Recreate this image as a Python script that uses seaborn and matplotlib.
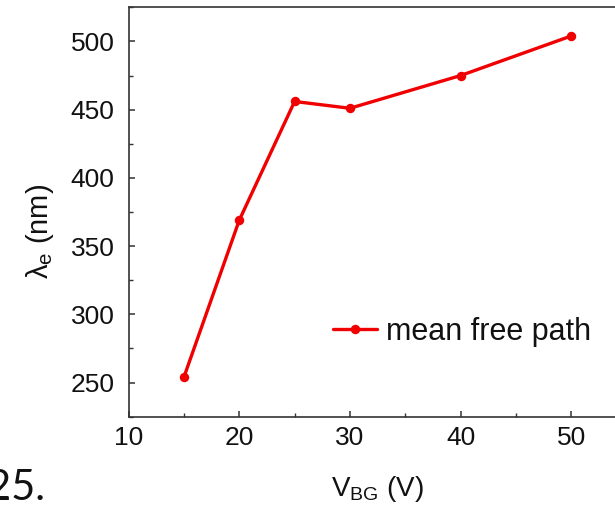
import matplotlib
matplotlib.use("Agg")
import matplotlib.pyplot as plt
import seaborn as sns
import pandas as pd
from matplotlib.ticker import MultipleLocator

# data
v_bg = [15, 20, 25, 30, 40, 50]
mean_free_path = [254, 369, 456, 451, 475, 504]
series_label = "mean free path"
x_ticks = [10, 20, 30, 40, 50]
y_ticks = [250, 300, 350, 400, 450, 500]

sns.set_theme(style="ticks")
plt.rcParams["font.family"] = ["Liberation Sans", "DejaVu Sans"]
plt.rcParams["mathtext.fontset"] = "custom"
plt.rcParams["mathtext.rm"] = "Liberation Sans"
plt.rcParams["mathtext.it"] = "Liberation Sans:italic"

df = pd.DataFrame({"V": v_bg, "mfp": mean_free_path})

fig = plt.figure(figsize=(6.15, 5.14), dpi=100)
ax = fig.add_axes([0.2091, 0.1893, 0.8098, 0.7965])

sns.lineplot(data=df, x="V", y="mfp", ax=ax, color="#f00000", linewidth=2.4,
             marker="o", markersize=6.8, markeredgewidth=0, label=series_label)

ax.set_xlim(10, 55)
ax.set_ylim(225, 525)
ax.set_xticks(x_ticks)
ax.set_yticks(y_ticks)
ax.xaxis.set_minor_locator(MultipleLocator(5))
ax.yaxis.set_minor_locator(MultipleLocator(25))

ax.tick_params(which="major", direction="in", length=4.5, width=1.1, colors="#333333",
               labelcolor="#111111")
ax.tick_params(which="minor", direction="in", length=2.8, width=1.0, colors="#333333")
ax.tick_params(axis="x", which="major", labelsize=19, pad=7)
ax.tick_params(axis="y", which="major", labelsize=19, pad=10)

for s in ax.spines.values():
    s.set_linewidth(1.2)
    s.set_color("#333333")

ax.set_xlabel(r"V$_\mathregular{BG}$ (V)", fontsize=20, color="#111111")
ax.set_ylabel(r"$\mathregular{λ_e}$ (nm)", fontsize=21, color="#111111")
ax.xaxis.set_label_coords(0.5, -0.14)
ax.yaxis.set_label_coords(-0.145, 0.4536)

leg = ax.legend(loc="center left", bbox_to_anchor=(0.41, 0.207), frameon=False,
                fontsize=22, handlelength=1.45, handletextpad=0.28, borderpad=0,
                borderaxespad=0)
for t in leg.get_texts():
    t.set_color("#111111")

fig.text(0.073, 0.027, "25.", fontsize=30, ha="right", va="baseline",
         family=["Lato", "DejaVu Sans"], color="#111111")

fig.savefig("out.png", dpi=100)
